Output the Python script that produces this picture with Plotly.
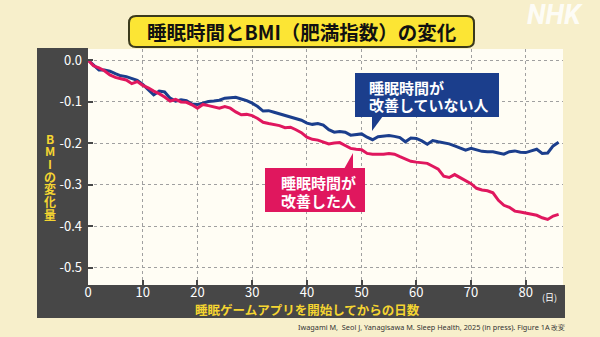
import plotly.graph_objects as go

# Days since starting the sleep game app
days = list(range(0, 87))

# BMI change, people whose sleep time did not improve
bmi_not_improved = [
    0.000, -0.012, -0.024, -0.024, -0.027, -0.033, -0.038, -0.040, -0.045, -0.049,
    -0.059, -0.071, -0.084, -0.075, -0.077, -0.092, -0.099, -0.096, -0.098, -0.106,
    -0.107, -0.104, -0.100, -0.099, -0.097, -0.092, -0.091, -0.090, -0.094, -0.098,
    -0.104, -0.112, -0.123, -0.122, -0.126, -0.130, -0.133, -0.137, -0.141, -0.145,
    -0.152, -0.155, -0.153, -0.157, -0.168, -0.174, -0.172, -0.174, -0.181, -0.180,
    -0.178, -0.186, -0.192, -0.185, -0.184, -0.182, -0.184, -0.187, -0.197, -0.188,
    -0.189, -0.195, -0.203, -0.194, -0.197, -0.199, -0.202, -0.207, -0.212, -0.217,
    -0.213, -0.216, -0.220, -0.221, -0.221, -0.224, -0.227, -0.221, -0.219, -0.222,
    -0.223, -0.219, -0.215, -0.225, -0.224, -0.207, -0.198,
]

# BMI change, people whose sleep time improved
bmi_improved = [
    0.000, -0.014, -0.019, -0.026, -0.036, -0.042, -0.045, -0.048, -0.057, -0.052,
    -0.061, -0.067, -0.075, -0.081, -0.089, -0.099, -0.095, -0.101, -0.102, -0.108,
    -0.116, -0.107, -0.110, -0.113, -0.116, -0.112, -0.116, -0.125, -0.132, -0.131,
    -0.134, -0.141, -0.150, -0.153, -0.155, -0.158, -0.163, -0.162, -0.168, -0.175,
    -0.186, -0.191, -0.193, -0.198, -0.202, -0.200, -0.199, -0.206, -0.213, -0.215,
    -0.216, -0.225, -0.227, -0.227, -0.227, -0.225, -0.227, -0.233, -0.238, -0.244,
    -0.246, -0.247, -0.249, -0.256, -0.263, -0.280, -0.283, -0.276, -0.284, -0.290,
    -0.298, -0.309, -0.313, -0.315, -0.320, -0.338, -0.350, -0.355, -0.364, -0.366,
    -0.369, -0.372, -0.374, -0.380, -0.384, -0.376, -0.372,
]

x_tick_vals = [0, 10, 20, 30, 40, 50, 60, 70, 80]
x_tick_text = ["0", "10", "20", "30", "40", "50", "60", "70", "80"]
y_tick_vals = [0.0, -0.1, -0.2, -0.3, -0.4, -0.5]
y_tick_text = ["0.0", "-0.1", "-0.2", "-0.3", "-0.4", "-0.5"]

title_text = "睡眠時間とBMI（肥満指数）の変化"
x_title = "睡眠ゲームアプリを開始してからの日数"
y_title_chars = ["B", "M", "I", "の", "変", "化", "量"]
label_not_improved = ["睡眠時間が", "改善していない人"]
label_improved = ["睡眠時間が", "改善した人"]
source_text = "Iwagami M,  Seol J, Yanagisawa M. Sleep Health, 2025 (in press). Figure 1A 改変"

W, H = 600, 337
L, R, T, B = 88, 563, 49, 285   # plot area edges in pixels

BLUE = "#1b3e8c"
PINK = "#e0175e"
DARK = "#474747"
YELLOW = "#f5d531"
BG = "#f7efcb"
PLOT_BG = "#fffdf4"
JP = "Noto Sans CJK JP"


def fx(p):
    return (p - L) / (R - L)


def fy(p):
    return (B - p) / (B - T)


def rect(x0, y0, x1, y1, color, layer="below"):
    return dict(type="rect", xref="paper", yref="paper",
                x0=fx(x0), x1=fx(x1), y0=fy(y1), y1=fy(y0),
                fillcolor=color, line=dict(width=0), layer=layer)


def poly(points, color, layer="above"):
    d = "M " + " L ".join(f"{fx(a):.5f},{fy(b):.5f}" for a, b in points) + " Z"
    return dict(type="path", xref="paper", yref="paper", path=d,
                fillcolor=color, line=dict(width=0), layer=layer)


def round_rect(x0, y0, x1, y1, r, fill, edge, width):
    rx = r / (R - L)
    ry = r / (B - T)
    a0, a1, b0, b1 = fx(x0), fx(x1), fy(y1), fy(y0)
    d = (f"M {a0+rx},{b1} L {a1-rx},{b1} Q {a1},{b1} {a1},{b1-ry} "
         f"L {a1},{b0+ry} Q {a1},{b0} {a1-rx},{b0} "
         f"L {a0+rx},{b0} Q {a0},{b0} {a0},{b0+ry} "
         f"L {a0},{b1-ry} Q {a0},{b1} {a0+rx},{b1} Z")
    return dict(type="path", xref="paper", yref="paper", path=d,
                fillcolor=fill, line=dict(color=edge, width=width), layer="above")


def label(text, x, y, size, color, family=JP, xanchor="center"):
    return dict(text=text, x=fx(x), y=fy(y), xref="paper", yref="paper",
                xanchor=xanchor, yanchor="middle", align=xanchor if xanchor != "center" else "center",
                showarrow=False, font=dict(family=family, size=size, color=color))


fig = go.Figure()
fig.add_trace(go.Scatter(x=days, y=bmi_not_improved, mode="lines",
                         line=dict(color=BLUE, width=3), showlegend=False))
fig.add_trace(go.Scatter(x=days, y=bmi_improved, mode="lines",
                         line=dict(color=PINK, width=3), showlegend=False))

shapes = [
    # dark frame on the left and beneath the plot
    rect(37, 48, L, 318, DARK),
    rect(L, B, 565, 318, DARK),
    # title plate
    round_rect(129, 16, 474, 47, 7, "#fce534", "#3b3a1c", 2),
    # callout: not improved
    rect(355, 73, 499, 117, BLUE, layer="above"),
    poly([(372, 116), (372, 131), (383, 116)], BLUE),
    # callout: improved
    rect(265, 168, 365, 212, PINK, layer="above"),
    poly([(344, 169), (353, 153), (353, 169)], PINK),
]

annotations = [
    label(f"<b>{title_text}</b>", 302, 31.5, 19.5, "#111111"),
    label("<b><i>NHK</i></b>", 555, 15, 27, "rgba(255,255,255,0.85)", family="Roboto"),
    label(f"<b>{x_title}</b>", 307, 309, 12.5, YELLOW),
    label("(日)", 549, 297, 9, "white"),
    label(source_text, 567, 327, 7.3, "#333333", family="Noto Sans", xanchor="right"),
    label(f"<b>{label_not_improved[0]}</b>", 367, 87, 15, "white", xanchor="left"),
    label(f"<b>{label_not_improved[1]}</b>", 367, 104.5, 15, "white", xanchor="left"),
    label(f"<b>{label_improved[0]}</b>", 279, 182, 15, "white", xanchor="left"),
    label(f"<b>{label_improved[1]}</b>", 279, 200.5, 15, "white", xanchor="left"),
]

# vertical y-axis title, one character per row
for i, ch in enumerate(y_title_chars):
    annotations.append(label(f"<b>{ch}</b>", 49.5, 138 + i * 12.7, 12, YELLOW))

fig.update_layout(
    width=W, height=H,
    margin=dict(l=L, r=W - R, t=T, b=H - B, pad=0),
    paper_bgcolor=BG, plot_bgcolor=PLOT_BG,
    shapes=shapes, annotations=annotations,
    xaxis=dict(range=[0, 86.8], tickvals=x_tick_vals, ticktext=x_tick_text,
               showgrid=True, gridcolor="#a0a0a0", griddash="dot", gridwidth=1,
               zeroline=False, showline=False,
               ticks="inside", ticklen=5, tickwidth=2, tickcolor=DARK,
               ticklabelstandoff=-2,
               tickfont=dict(family=JP, size=13, color="white")),
    yaxis=dict(range=[-0.542, 0.0265], tickvals=y_tick_vals, ticktext=y_tick_text,
               showgrid=True, gridcolor="#a0a0a0", griddash="dot", gridwidth=1,
               zeroline=False, showline=False,
               ticks="inside", ticklen=5, tickwidth=2, tickcolor=DARK,
               ticklabelstandoff=5,
               tickfont=dict(family=JP, size=13, color="white")),
)

fig.write_html("out.html")
